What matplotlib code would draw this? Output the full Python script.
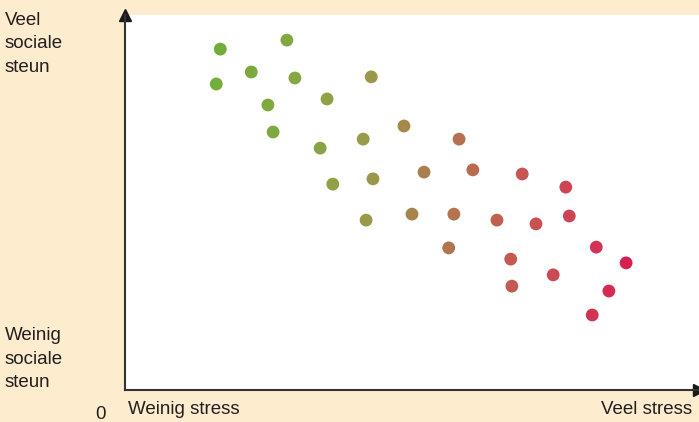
import numpy as np
import matplotlib
matplotlib.use("Agg")
import matplotlib.pyplot as plt
from matplotlib.colors import LinearSegmentedColormap

plt.rcParams['font.family'] = ['Liberation Sans Narrow', 'Liberation Sans', 'DejaVu Sans']

# stress (0-100) vs. social support (0-100)
stress = [16.6, 28.2, 15.9, 22.0, 29.6, 24.9, 35.2, 42.9, 25.8, 34.0, 41.5,
          48.6, 58.2, 36.2, 43.2, 52.1, 60.6, 69.2, 76.8, 42.0, 50.0, 57.3,
          64.8, 71.6, 77.4, 56.4, 67.2, 82.1, 87.3, 74.6, 67.4, 84.3, 81.4]
steun = [90.9, 93.3, 81.6, 84.8, 83.2, 76.0, 77.6, 83.5, 68.8, 64.5, 66.9,
         70.4, 66.9, 54.9, 56.3, 58.1, 58.7, 57.6, 54.1, 45.3, 46.9, 46.9,
         45.3, 44.3, 46.4, 37.9, 34.9, 38.1, 33.9, 30.7, 27.7, 26.4, 20.0]

bg = '#fdecce'
txt = '#231f20'

cmap = LinearSegmentedColormap.from_list('stress', [
    (0.00, '#70ae3a'), (0.20, '#86a642'), (0.35, '#969e48'),
    (0.45, '#a4894b'), (0.55, '#b0784e'), (0.65, '#bc6550'),
    (0.75, '#c65553'), (0.85, '#cd4555'), (1.00, '#d81e50')])

fig = plt.figure(figsize=(6.99, 4.22), dpi=100, facecolor=bg)
ax = fig.add_axes([125 / 699, 32 / 422, 574 / 699, 375 / 422])
ax.set_facecolor('white')
ax.set_xlim(0, 100)
ax.set_ylim(0, 100)

norm = plt.Normalize(15, 88)
ax.scatter(stress, steun, s=85, c=stress, cmap=cmap, norm=norm,
           edgecolors='none', zorder=3)

for s in ['top', 'right']:
    ax.spines[s].set_visible(False)
for s in ['left', 'bottom']:
    ax.spines[s].set_color('#333333')
    ax.spines[s].set_linewidth(1.5)
ax.set_xticks([])
ax.set_yticks([])

# arrow heads
ax.plot([0], [1], marker='^', color='#1a1a1a', markersize=8,
        transform=ax.transAxes, clip_on=False)
ax.plot([1], [0], marker='>', color='#1a1a1a', markersize=8,
        transform=ax.transAxes, clip_on=False)

fs = 13.5
fig.text(5 / 699, 1 - 12 / 422, 'Veel\nsociale\nsteun', ha='left', va='top',
         fontsize=fs, color=txt, linespacing=1.5)
fig.text(5 / 699, 1 - 327 / 422, 'Weinig\nsociale\nsteun', ha='left', va='top',
         fontsize=fs, color=txt, linespacing=1.5)
fig.text(128 / 699, 1 - 414 / 422, 'Weinig stress', ha='left', va='baseline',
         fontsize=fs, color=txt)
fig.text(692 / 699, 1 - 414 / 422, 'Veel stress', ha='right', va='baseline',
         fontsize=fs, color=txt)
fig.text(101 / 699, 1 - 419 / 422, '0', ha='center', va='baseline',
         fontsize=fs, color=txt)

fig.savefig('out.png', dpi=100, facecolor=bg)
